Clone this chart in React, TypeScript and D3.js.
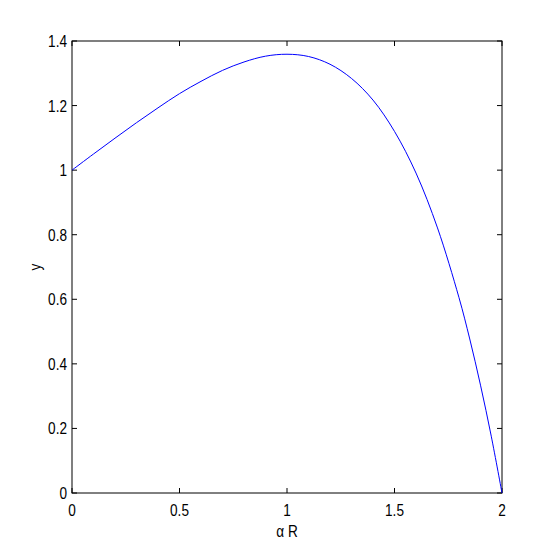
import { useEffect, useRef } from "react";
import * as d3 from "d3";

// values
const xValues = [0, 0.1, 0.2, 0.3, 0.4, 0.5, 0.6, 0.7, 0.8, 0.9, 1.0, 1.1, 1.2, 1.3, 1.4, 1.5, 1.6, 1.7, 1.8, 1.85, 1.9, 1.95, 2.0];
const yValues = [1.0, 1.05, 1.099, 1.147, 1.193, 1.237, 1.275, 1.309, 1.335, 1.353, 1.359, 1.352, 1.328, 1.284, 1.217, 1.12, 0.991, 0.821, 0.605, 0.477, 0.334, 0.176, 0];
const xTicks = [0, 0.5, 1, 1.5, 2];
const yTicks = [0, 0.2, 0.4, 0.6, 0.8, 1, 1.2, 1.4];

const W = 554;
const H = 554;
const margin = { left: 72, right: 52, top: 41, bot: 61 };
const font = "'Liberation Sans', Arial, sans-serif";
const squeeze = 0.8; // reference font is narrow

export default function App() {
  const ref = useRef<SVGSVGElement>(null);

  useEffect(() => {
    const svg = d3.select(ref.current);
    svg.selectAll("*").remove();

    const width = W - margin.left - margin.right;
    const height = H - margin.top - margin.bot;

    const x = d3.scaleLinear().domain([0, 2]).range([0, width]);
    const y = d3.scaleLinear().domain([0, 1.4]).range([height, 0]);

    const g = svg
      .append("g")
      .attr("transform", "translate(" + margin.left + "," + margin.top + ")");

    const tick = 5;

    const label = (px: number, py: number, anchor: string, txt: string, rot = 0) =>
      g
        .append("text")
        .attr(
          "transform",
          "translate(" + px + "," + py + ") rotate(" + rot + ") scale(" + squeeze + ",1)"
        )
        .attr("text-anchor", anchor)
        .attr("font-family", font)
        .attr("font-size", 17)
        .text(txt);

    // box
    g.append("rect")
      .attr("width", width)
      .attr("height", height)
      .attr("fill", "none")
      .attr("stroke", "black")
      .attr("stroke-width", 1);

    // x ticks (bottom + top, inward)
    xTicks.forEach((t) => {
      g.append("line")
        .attr("x1", x(t)).attr("x2", x(t))
        .attr("y1", height).attr("y2", height - tick)
        .attr("stroke", "black");
      g.append("line")
        .attr("x1", x(t)).attr("x2", x(t))
        .attr("y1", 0).attr("y2", tick)
        .attr("stroke", "black");
      label(x(t), height + 23, "middle", String(t));
    });

    // y ticks (left + right, inward)
    yTicks.forEach((t) => {
      g.append("line")
        .attr("x1", 0).attr("x2", tick)
        .attr("y1", y(t)).attr("y2", y(t))
        .attr("stroke", "black");
      g.append("line")
        .attr("x1", width).attr("x2", width - tick)
        .attr("y1", y(t)).attr("y2", y(t))
        .attr("stroke", "black");
      label(-5, y(t) + 6, "end", String(t));
    });

    // curve
    const pts = xValues.map((v, i) => [v, yValues[i]] as [number, number]);
    g.append("path")
      .datum(pts)
      .attr("fill", "none")
      .attr("stroke", "#0000ff")
      .attr("stroke-width", 1)
      .attr(
        "d",
        d3
          .line<[number, number]>()
          .x((d) => x(d[0]))
          .y((d) => y(d[1]))
          .curve(d3.curveCatmullRom)
      );

    // axis labels
    label(width / 2, height + 44, "middle", "α R");
    label(-31, height / 2, "middle", "y", -90);
  }, []);

  return (
    <svg
      ref={ref}
      width={W}
      height={H}
      style={{ position: "absolute", left: 0, top: 0, background: "white" }}
    />
  );
}
